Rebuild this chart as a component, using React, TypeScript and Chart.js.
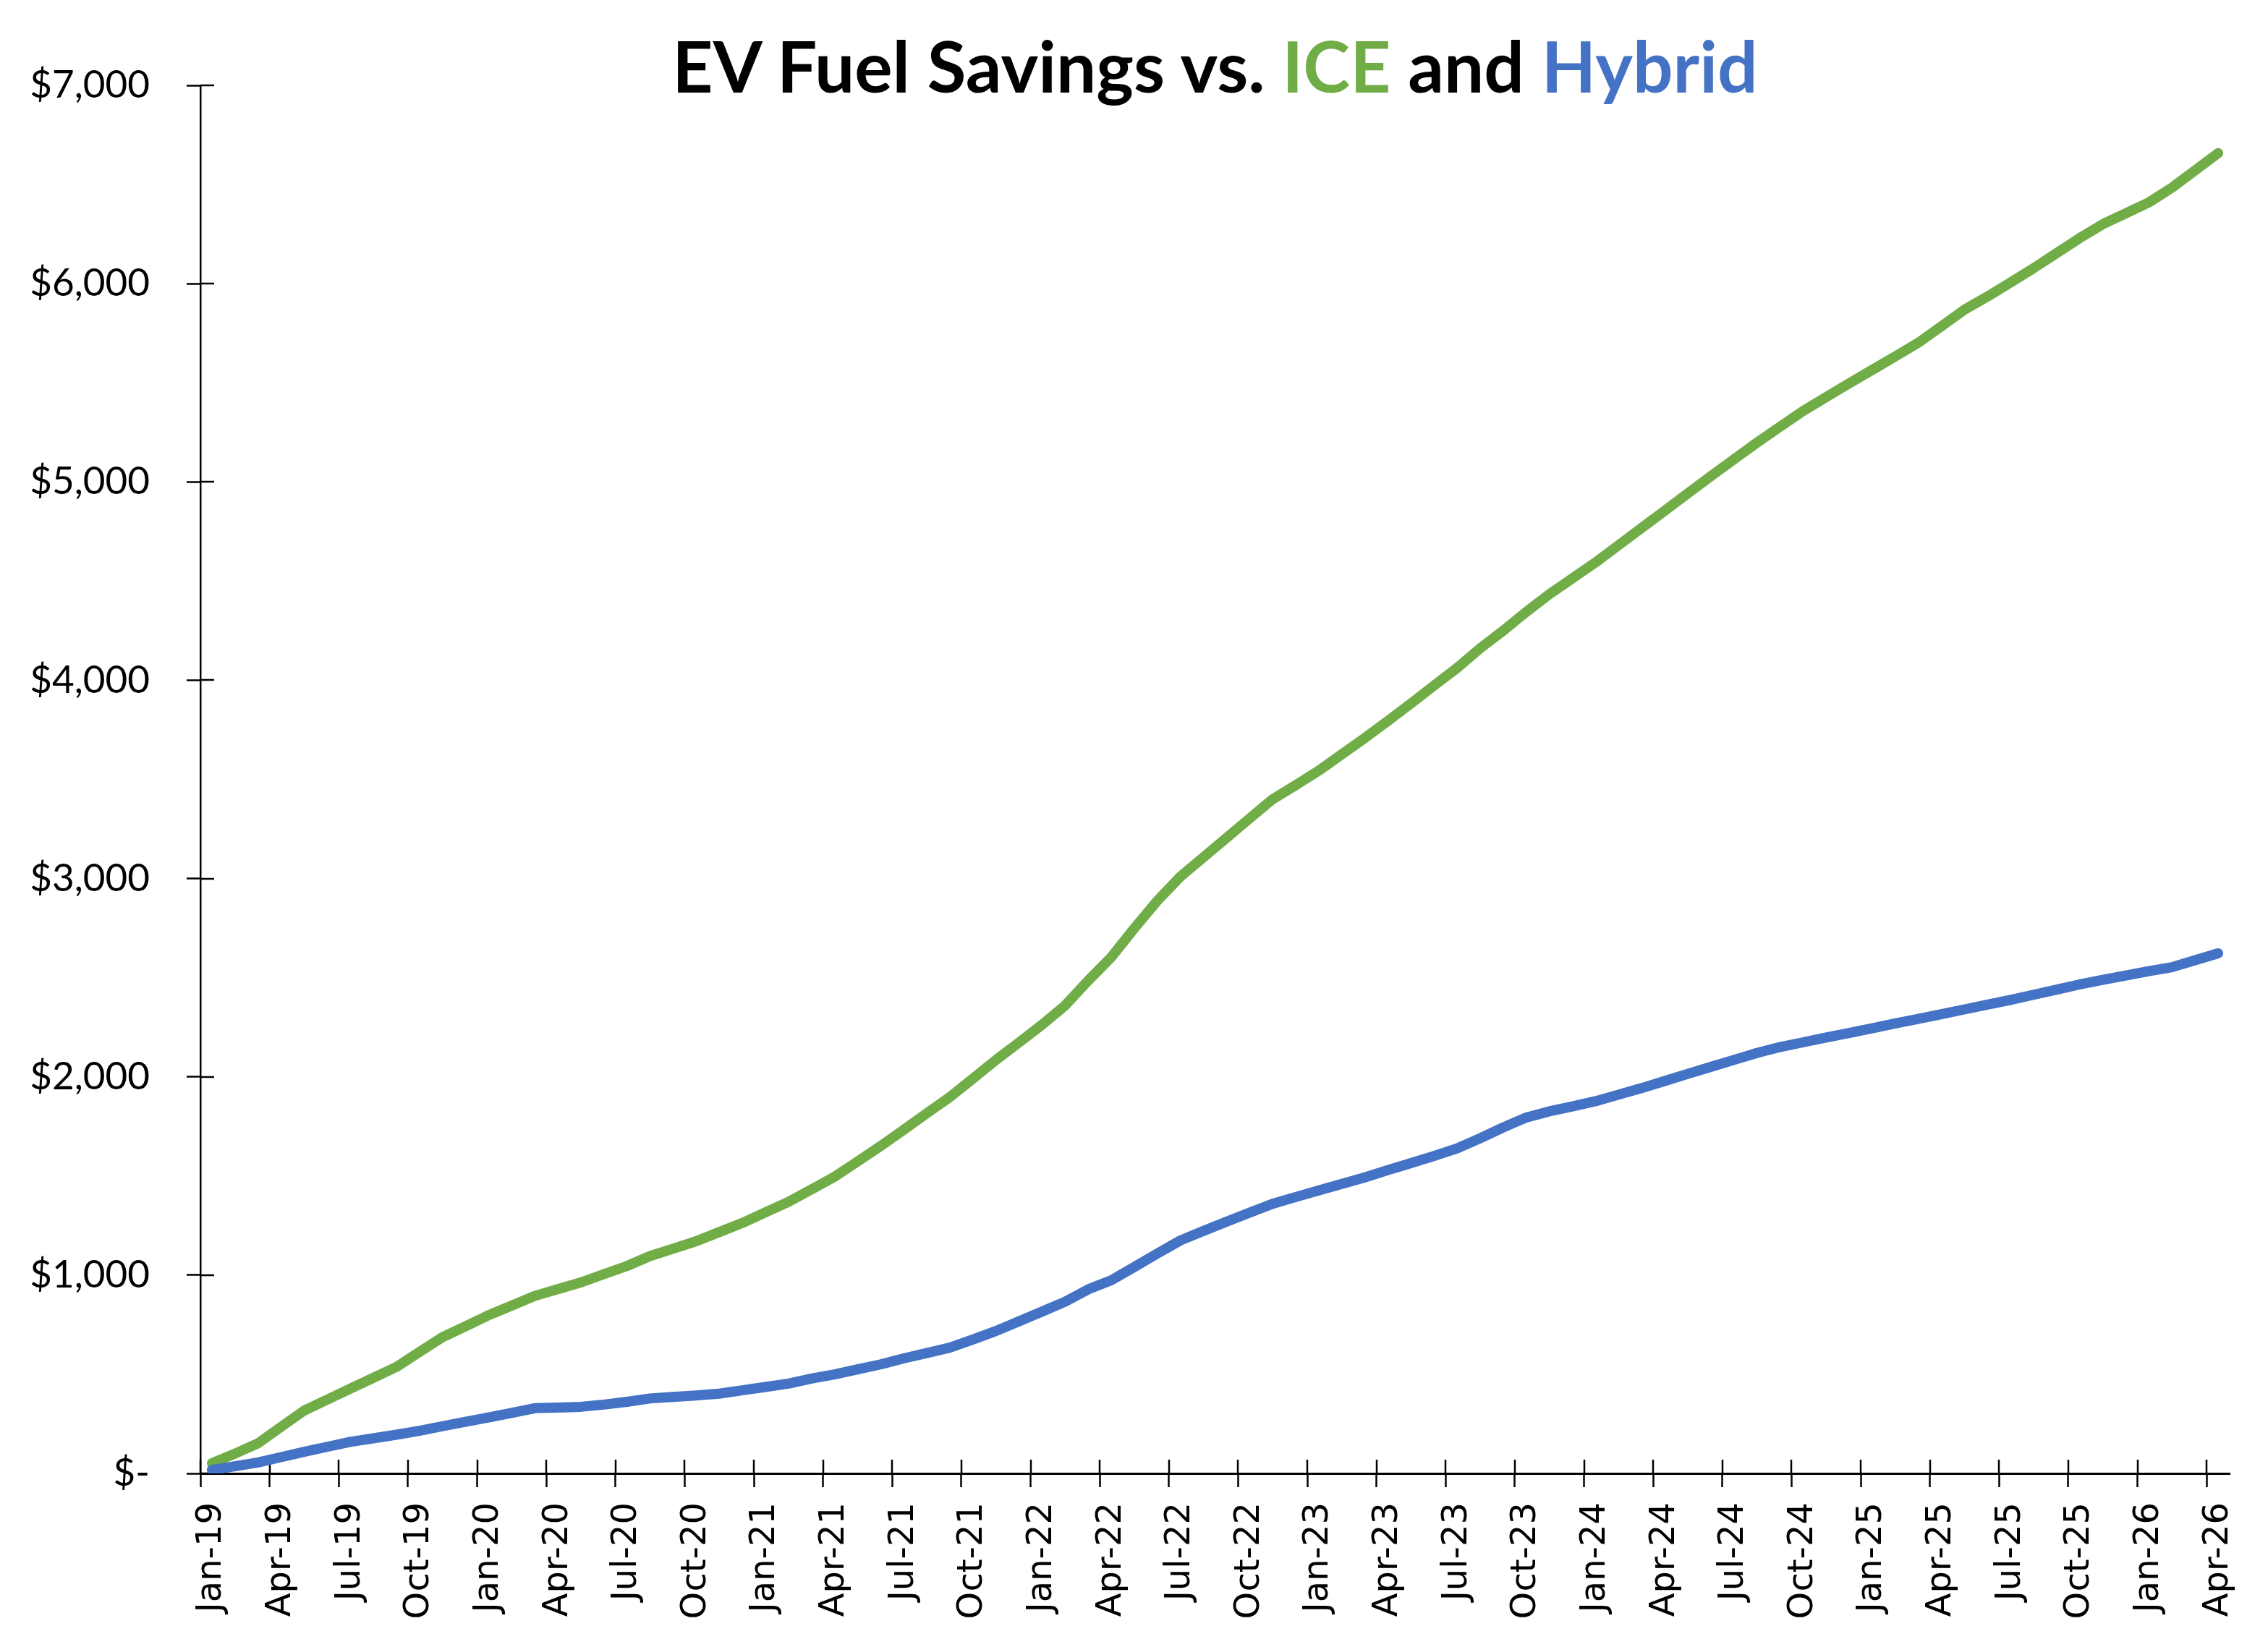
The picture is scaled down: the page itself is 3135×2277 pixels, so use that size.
import React, { useEffect, useRef } from 'react';
import { Chart, registerables } from 'chart.js';

Chart.register(...registerables);

// ---------- data ----------
const MONTHS = ['Jan', 'Feb', 'Mar', 'Apr', 'May', 'Jun', 'Jul', 'Aug', 'Sep', 'Oct', 'Nov', 'Dec'];
const YEARS = ['19', '20', '21', '22', '23', '24', '25', '26'];
const MONTH_COUNT = 88; // Jan-19 .. Apr-26

const ICE_SAVINGS = [
  51, 100, 152, 235, 317, 372, 427, 482, 537, 612,
  687, 742, 798, 846, 895, 929, 963, 1005, 1046, 1096,
  1133, 1171, 1217, 1263, 1316, 1369, 1432, 1496, 1573, 1651,
  1733, 1816, 1898, 1991, 2085, 2173, 2263, 2360, 2485, 2603,
  2749, 2888, 3010, 3107, 3205, 3303, 3400, 3471, 3544, 3627,
  3709, 3795, 3883, 3973, 4062, 4161, 4250, 4345, 4434, 4514,
  4594, 4681, 4768, 4855, 4942, 5029, 5114, 5198, 5278, 5358,
  5428, 5497, 5565, 5633, 5702, 5785, 5869, 5935, 6006, 6078,
  6154, 6230, 6300, 6355, 6410, 6484, 6571, 6658,
];

const HYBRID_SAVINGS = [
  18, 36, 55, 82, 109, 134, 159, 177, 195, 215,
  238, 260, 282, 305, 329, 332, 336, 347, 361, 378,
  386, 393, 402, 419, 436, 453, 478, 499, 525, 550,
  580, 607, 634, 675, 718, 767, 816, 866, 928, 974,
  1041, 1109, 1175, 1223, 1269, 1315, 1360, 1394, 1427, 1460,
  1493, 1530, 1565, 1601, 1639, 1690, 1745, 1795, 1826, 1851,
  1877, 1910, 1943, 1979, 2015, 2050, 2085, 2120, 2150, 2174,
  2198, 2221, 2245, 2269, 2292, 2316, 2340, 2364, 2388, 2414,
  2440, 2466, 2489, 2511, 2533, 2553, 2588, 2623,
];

const Y_MIN = 0;
const Y_MAX = 7000;
const Y_STEP = 1000;
const LABEL_EVERY = 3; // quarterly labels

const TITLE_PARTS = ['EV Fuel Savings vs. ', 'ICE', ' and ', 'Hybrid'];
const SERIES_NAMES = ['ICE', 'Hybrid'];

const CATEGORIES: string[] = [];
YEARS.forEach((y) => MONTHS.forEach((m) => CATEGORIES.push(`${m}-${y}`)));
CATEGORIES.length = MONTH_COUNT;

// ---------- styles ----------
const W = 3135;
const H = 2277;
const GREEN = '#70AD47';
const BLUE = '#4472C4';
const TITLE_COLORS = ['#000000', GREEN, '#000000', BLUE];
const TICK_LEN = 19;
const TICK_W = 2.5;
const LINE_W = 14;

const innerTicks = {
  id: 'innerTicks',
  beforeDatasetsDraw(chart: any) {
    const { ctx, chartArea, scales } = chart;
    const xs = scales.x;
    const ys = scales.y;
    ctx.save();
    ctx.strokeStyle = '#000';
    ctx.lineWidth = TICK_W;
    ctx.beginPath();
    ys.ticks.forEach((t: any) => {
      const py = Math.round(ys.getPixelForValue(t.value));
      ctx.moveTo(chartArea.left, py);
      ctx.lineTo(chartArea.left + TICK_LEN, py);
    });
    const half = (xs.getPixelForValue(1) - xs.getPixelForValue(0)) / 2;
    for (let i = 0; i < CATEGORIES.length; i += LABEL_EVERY) {
      const px = Math.round(xs.getPixelForValue(i) - half);
      ctx.moveTo(px, chartArea.bottom);
      ctx.lineTo(px, chartArea.bottom - TICK_LEN);
    }
    ctx.stroke();
    ctx.restore();
  },
};

export default function App() {
  const ref = useRef<HTMLCanvasElement | null>(null);

  useEffect(() => {
    if (!ref.current) return;
    const chart = new Chart(ref.current, {
      type: 'line',
      data: {
        labels: CATEGORIES,
        datasets: [
          {
            label: SERIES_NAMES[0],
            data: ICE_SAVINGS,
            borderColor: GREEN,
            backgroundColor: GREEN,
            borderWidth: LINE_W,
            pointRadius: 0,
            tension: 0,
            borderCapStyle: 'round',
            borderJoinStyle: 'round',
            order: 1,
          },
          {
            label: SERIES_NAMES[1],
            data: HYBRID_SAVINGS,
            borderColor: BLUE,
            backgroundColor: BLUE,
            borderWidth: LINE_W,
            pointRadius: 0,
            tension: 0,
            borderCapStyle: 'round',
            borderJoinStyle: 'round',
            order: 0,
          },
        ],
      },
      options: {
        responsive: false,
        devicePixelRatio: 1,
        animation: false,
        layout: { padding: { left: 0, top: 118, right: 53, bottom: 0 } },
        plugins: {
          legend: { display: false },
          title: { display: false },
          tooltip: { enabled: false },
        },
        scales: {
          x: {
            type: 'category',
            offset: true,
            grid: {
              offset: true,
              drawOnChartArea: false,
              drawTicks: true,
              tickLength: TICK_LEN,
              tickWidth: TICK_W,
              tickColor: (ctx: any) => (ctx.index % LABEL_EVERY === 0 ? '#000' : 'rgba(0,0,0,0)'),
            },
            border: { display: true, color: '#000', width: 3 },
            ticks: {
              autoSkip: false,
              maxRotation: 90,
              minRotation: 90,
              padding: 21,
              color: '#000',
              font: { family: 'DejaVu Sans', size: 48 },
              callback: (_v: any, i: number) => (i % LABEL_EVERY === 0 ? CATEGORIES[i] : ''),
            },
            afterFit: (s: any) => {
              s.height = H - 2037;
              s.paddingLeft = 0;
              s.paddingRight = 0;
            },
          },
          y: {
            min: Y_MIN,
            max: Y_MAX,
            grid: {
              drawOnChartArea: false,
              drawTicks: true,
              tickLength: TICK_LEN,
              tickWidth: TICK_W,
              tickColor: '#000',
            },
            border: { display: true, color: '#000', width: 2.5 },
            ticks: {
              stepSize: Y_STEP,
              padding: 51,
              color: '#000',
              font: { family: 'Lato', size: 53 },
              callback: (v: any) => (Number(v) === 0 ? '$-' : '$' + Number(v).toLocaleString('en-US')),
            },
            afterFit: (s: any) => {
              s.width = 277;
              s.paddingTop = 0;
              s.paddingBottom = 0;
            },
          },
        },
      },
      plugins: [innerTicks],
    });
    return () => chart.destroy();
  }, []);

  return (
    <div style={{ position: 'fixed', left: 0, top: 0, width: W, height: H, background: '#fff' }}>
      <canvas ref={ref} width={W} height={H} style={{ width: W, height: H, display: 'block' }} />
      <div
        style={{
          position: 'absolute',
          left: 277,
          width: 3082 - 277,
          top: 41,
          textAlign: 'center',
          fontFamily: 'Lato, sans-serif',
          fontWeight: 700,
          fontSize: 98,
          lineHeight: 1,
          whiteSpace: 'nowrap',
        }}
      >
        {TITLE_PARTS.map((t, i) => (
          <span key={i} style={{ color: TITLE_COLORS[i] }}>
            {t}
          </span>
        ))}
      </div>
    </div>
  );
}
